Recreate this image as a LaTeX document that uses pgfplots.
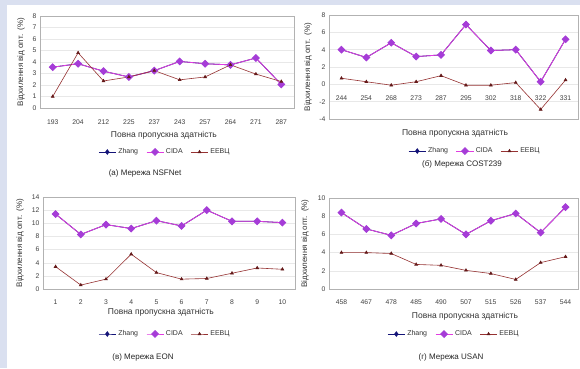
\documentclass[border=0pt]{standalone}
\usepackage{pgfplots}
\usepackage{pgfplotstable}
\pgfplotsset{compat=1.18}
\usepackage{fontspec}
\setmainfont{Liberation Sans}
\definecolor{bgblue}{RGB}{218,224,240}
\definecolor{zhang}{RGB}{20,20,120}
\definecolor{cidaL}{RGB}{225,60,225}
\definecolor{cidaM}{RGB}{165,60,215}
\definecolor{eebcL}{RGB}{150,50,50}
\definecolor{eebcM}{RGB}{100,25,25}

\pgfplotstableread{
x zhang cida eebc
0 3.55 3.55 1.0
1 3.85 3.85 4.8
2 3.2 3.2 2.35
3 2.7 2.7 2.7
4 3.25 3.25 3.25
5 4.05 4.05 2.45
6 3.85 3.85 2.7
7 3.75 3.75 3.75
8 4.35 4.35 2.95
9 2.05 2.05 2.3
}\tabA
\pgfplotstableread{
x zhang cida eebc
0 4.0 4.0 0.7
1 3.1 3.1 0.3
2 4.8 4.8 -0.1
3 3.2 3.2 0.3
4 3.4 3.4 1.0
5 6.9 6.9 -0.1
6 3.9 3.9 -0.1
7 4.0 4.0 0.2
8 0.3 0.3 -2.9
9 5.2 5.2 0.5
}\tabB
\pgfplotstableread{
x zhang cida eebc
0 11.4 11.4 3.4
1 8.3 8.3 0.6
2 9.8 9.8 1.5
3 9.2 9.2 5.3
4 10.4 10.4 2.5
5 9.6 9.6 1.5
6 12.0 12.0 1.6
7 10.3 10.3 2.4
8 10.3 10.3 3.2
9 10.1 10.1 3.0
}\tabC
\pgfplotstableread{
x zhang cida eebc
0 8.4 8.4 4.0
1 6.6 6.6 4.0
2 5.9 5.9 3.9
3 7.2 7.2 2.7
4 7.7 7.7 2.6
5 6.0 6.0 2.05
6 7.5 7.5 1.7
7 8.3 8.3 1.05
8 6.2 6.2 2.9
9 9.0 9.0 3.55
}\tabD

\pgfplotsset{
 panel/.style={scale only axis, xmin=-0.5, xmax=9.5, xtick={0,...,9},
  ymajorgrids, grid style={gray!18, line width=0.4pt},
  axis line style={gray!60}, major tick length=0pt,
  ticklabel style={font=\fontsize{6.8}{7}\selectfont, text=black!75},
  /pgf/number format/assume math mode=true,
  ylabel={Відхилення від опт.~~(\%)}, xlabel={Повна пропускна здатність},
  xlabel style={font=\fontsize{8.5}{9}\selectfont, text=black!80},
  ylabel style={font=\fontsize{8}{9}\selectfont, text=black!80},
  legend columns=3,
  legend style={draw=none, fill=none, font=\fontsize{7}{8}\selectfont, text=black!80, anchor=center,
   /tikz/every even column/.append style={column sep=6pt}},
 },
 zh/.style={color=zhang, line width=0.8pt, mark=diamond*, mark size=2.2pt, mark options={fill=zhang}},
 ci/.style={color=cidaL, line width=0.8pt, mark=square*, mark size=2.4pt, mark options={rotate=45, fill=cidaM, draw=cidaM}},
 ee/.style={color=eebcL, line width=0.6pt, mark=triangle*, mark size=1.6pt, mark options={fill=eebcM, draw=eebcM}},
}

\begin{document}
\begin{tikzpicture}
\path[use as bounding box] (0,0) rectangle (580pt,368pt);
\fill[bgblue] (0,0) rectangle (580pt,368pt);
\fill[white] (7pt,0) rectangle (580pt,363pt);

% (a)
\begin{axis}[panel, at={(40pt,260pt)}, anchor=south west, width=254pt, height=92pt,
  ymin=0, ymax=8, ytick={0,...,8},
  xticklabels={193,204,212,225,237,243,257,264,271,287},
  x tick label style={yshift=-8pt},
  ylabel style={at={(axis description cs:-0.075,0.5)}, anchor=center},
  xlabel style={at={(axis description cs:0.488,-0.293)}, anchor=center},
  legend style={at={(0.492,-0.478)}}]
\addplot[zh] table[x=x,y=zhang] {\tabA};
\addplot[ci] table[x=x,y=cida] {\tabA};
\addplot[ee] table[x=x,y=eebc] {\tabA};
\legend{Zhang,CIDA,EEBЦ}
\end{axis}

% (b)
\begin{axis}[panel, at={(329pt,249pt)}, anchor=south west, width=249pt, height=104pt,
  ymin=-4, ymax=8, ytick={-4,-2,...,8},
  xticklabels={244,254,268,273,287,295,302,318,322,331},
  x tick label style={yshift=26.5pt},
  ylabel style={at={(axis description cs:-0.084,0.5)}, anchor=center},
  xlabel style={at={(axis description cs:0.506,-0.135)}, anchor=center},
  legend style={at={(0.586,-0.308)}}]
\addplot[zh] table[x=x,y=zhang] {\tabB};
\addplot[ci] table[x=x,y=cida] {\tabB};
\addplot[ee] table[x=x,y=eebc] {\tabB};
\legend{Zhang,CIDA,EEBЦ}
\end{axis}

% (c)
\begin{axis}[panel, at={(43pt,79pt)}, anchor=south west, width=252pt, height=92pt,
  ymin=0, ymax=14, ytick={0,2,...,14},
  xticklabels={1,2,3,4,5,6,7,8,9,10},
  x tick label style={yshift=-7.5pt},
  ylabel style={at={(axis description cs:-0.091,0.5)}, anchor=center},
  xlabel style={at={(axis description cs:0.468,-0.25)}, anchor=center},
  legend style={at={(0.484,-0.489)}}]
\addplot[zh] table[x=x,y=zhang] {\tabC};
\addplot[ci] table[x=x,y=cida] {\tabC};
\addplot[ee] table[x=x,y=eebc] {\tabC};
\legend{Zhang,CIDA,EEBЦ}
\end{axis}

% (d)
\begin{axis}[panel, at={(329pt,79pt)}, anchor=south west, width=249pt, height=91pt,
  ymin=0, ymax=10, ytick={0,2,...,10},
  xticklabels={458,467,478,485,490,507,515,526,537,544},
  x tick label style={yshift=-7.5pt},
  ylabel style={at={(axis description cs:-0.096,0.5)}, anchor=center},
  xlabel style={at={(axis description cs:0.546,-0.297)}, anchor=center},
  legend style={at={(0.502,-0.495)}}]
\addplot[zh] table[x=x,y=zhang] {\tabD};
\addplot[ci] table[x=x,y=cida] {\tabD};
\addplot[ee] table[x=x,y=eebc] {\tabD};
\legend{Zhang,CIDA,EEBЦ}
\end{axis}

\begin{scope}[every node/.style={font=\fontsize{8}{9}\selectfont, text=black!85}]
\node at (145pt,195pt) {(а) Мережа NSFNet};
\node at (462pt,204pt) {(б) Мережа COST239};
\node at (143pt,11pt) {(в) Мережа EON};
\node at (451pt,11pt) {(г) Мережа USAN};
\end{scope}
\end{tikzpicture}
\end{document}
